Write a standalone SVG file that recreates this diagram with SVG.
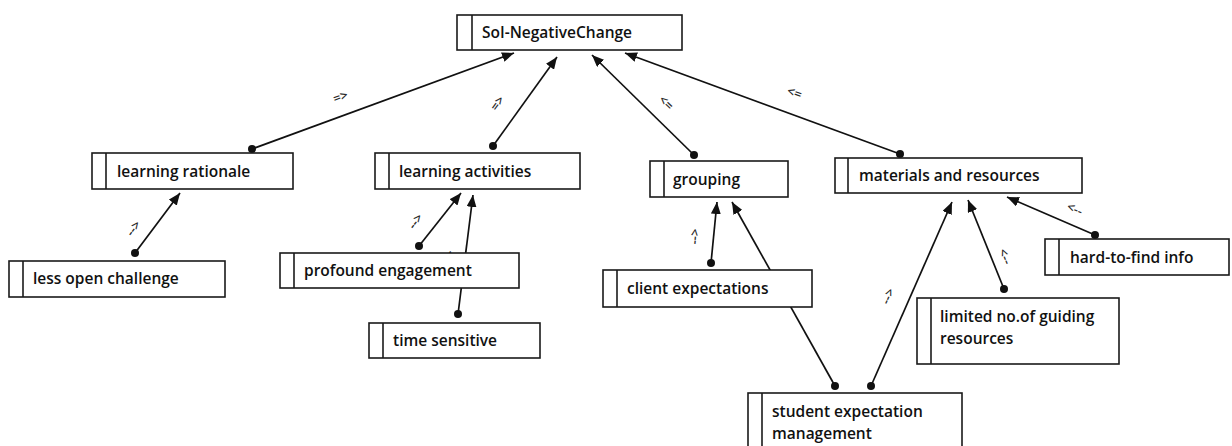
<svg xmlns="http://www.w3.org/2000/svg" width="1232" height="446" viewBox="0 0 1232 446">
  <style>
    .box { fill: #ffffff; stroke: #1a1a1a; stroke-width: 1.6; }
    .bar { stroke: #1a1a1a; stroke-width: 1.6; }
    .name { font-family: "Open Sans", "Noto Sans", sans-serif; font-size: 15.5px; font-weight: 600; fill: #111111; }
    .edge { stroke: #111111; stroke-width: 1.7; fill: none; marker-end: url(#tip); }
    .dot { fill: #111111; }
    .tag { font-family: "Open Sans", "Noto Sans", sans-serif; font-size: 13px; font-weight: 600; fill: #2a2a2a; text-anchor: middle; }
  </style>
  <defs>
    <marker id="tip" viewBox="0 0 12 10" refX="12" refY="5" markerWidth="12" markerHeight="10" markerUnits="userSpaceOnUse" orient="auto">
      <path d="M0,0 L12,5 L0,10 Z" fill="#111111"/>
    </marker>
  </defs>

  <rect width="1232" height="446" fill="#ffffff"/>

  <g id="connectors">
    <!-- into SoI-NegativeChange -->
    <line class="edge" x1="252" y1="149" x2="514" y2="53"/>
    <circle class="dot" cx="252" cy="149" r="4"/>
    <text class="tag" transform="translate(342,101) rotate(-20)">=&gt;</text>

    <line class="edge" x1="493" y1="146" x2="557" y2="57"/>
    <circle class="dot" cx="493" cy="146" r="4"/>
    <text class="tag" transform="translate(501,106) rotate(-54)">=&gt;</text>

    <line class="edge" x1="694" y1="155" x2="592" y2="55"/>
    <circle class="dot" cx="694" cy="155" r="4"/>
    <text class="tag" transform="translate(663,106) rotate(44)">&lt;=</text>

    <line class="edge" x1="900" y1="154" x2="625" y2="53"/>
    <circle class="dot" cx="900" cy="154" r="4"/>
    <text class="tag" transform="translate(793,97) rotate(20)">&lt;=</text>

    <!-- into learning rationale -->
    <line class="edge" x1="135" y1="253" x2="180" y2="193"/>
    <circle class="dot" cx="135" cy="253" r="4"/>
    <text class="tag" transform="translate(137,231) rotate(-53)">--&gt;</text>

    <!-- into learning activities -->
    <line class="edge" x1="458" y1="314" x2="473" y2="195"/>
    <circle class="dot" cx="458" cy="314" r="4"/>
    <text class="tag" transform="translate(454,259) rotate(-83)">--&gt;</text>

    <line class="edge" x1="419" y1="246" x2="461" y2="193"/>
    <circle class="dot" cx="419" cy="246" r="4"/>
    <text class="tag" transform="translate(419,224) rotate(-52)">--&gt;</text>

    <!-- into grouping -->
    <line class="edge" x1="711" y1="263" x2="717" y2="202"/>
    <circle class="dot" cx="711" cy="263" r="4"/>
    <text class="tag" transform="translate(699,237) rotate(-84)">--&gt;</text>

    <line class="edge" x1="835" y1="386" x2="732" y2="202"/>
    <circle class="dot" cx="835" cy="386" r="4"/>

    <!-- into materials and resources -->
    <line class="edge" x1="871" y1="386" x2="952" y2="202"/>
    <circle class="dot" cx="871" cy="386" r="4"/>
    <text class="tag" transform="translate(892,298) rotate(-66)">--&gt;</text>

    <line class="edge" x1="1004" y1="289" x2="968" y2="200"/>
    <circle class="dot" cx="1004" cy="289" r="4"/>
    <text class="tag" transform="translate(1001,258) rotate(68)">&lt;--</text>

    <line class="edge" x1="1095" y1="235" x2="1007" y2="197"/>
    <circle class="dot" cx="1095" cy="235" r="4"/>
    <text class="tag" transform="translate(1073,213) rotate(23)">&lt;--</text>
  </g>

  <g id="soi-negative-change">
    <rect class="box" x="457" y="15" width="225" height="35"/>
    <line class="bar" x1="472" y1="15" x2="472" y2="50"/>
    <text class="name" x="482" y="38">SoI-NegativeChange</text>
  </g>

  <g id="learning-rationale">
    <rect class="box" x="92" y="153" width="201" height="36"/>
    <line class="bar" x1="106" y1="153" x2="106" y2="189"/>
    <text class="name" x="117" y="177">learning rationale</text>
  </g>

  <g id="learning-activities">
    <rect class="box" x="375" y="153" width="205" height="36"/>
    <line class="bar" x1="389" y1="153" x2="389" y2="189"/>
    <text class="name" x="399" y="177">learning activities</text>
  </g>

  <g id="grouping">
    <rect class="box" x="650" y="161" width="138" height="36"/>
    <line class="bar" x1="664" y1="161" x2="664" y2="197"/>
    <text class="name" x="673" y="185">grouping</text>
  </g>

  <g id="materials-and-resources">
    <rect class="box" x="835" y="158" width="247" height="35"/>
    <line class="bar" x1="848" y1="158" x2="848" y2="193"/>
    <text class="name" x="859" y="181">materials and resources</text>
  </g>

  <g id="less-open-challenge">
    <rect class="box" x="9" y="261" width="216" height="36"/>
    <line class="bar" x1="23" y1="261" x2="23" y2="297"/>
    <text class="name" x="33" y="284">less open challenge</text>
  </g>

  <g id="profound-engagement">
    <rect class="box" x="280" y="253" width="239" height="35"/>
    <line class="bar" x1="294" y1="253" x2="294" y2="288"/>
    <text class="name" x="304" y="276">profound engagement</text>
  </g>

  <g id="time-sensitive">
    <rect class="box" x="369" y="323" width="171" height="35"/>
    <line class="bar" x1="383" y1="323" x2="383" y2="358"/>
    <text class="name" x="393" y="346">time sensitive</text>
  </g>

  <g id="client-expectations">
    <rect class="box" x="603" y="270" width="209" height="37"/>
    <line class="bar" x1="617" y1="270" x2="617" y2="307"/>
    <text class="name" x="627" y="294">client expectations</text>
  </g>

  <g id="hard-to-find-info">
    <rect class="box" x="1045" y="239" width="184" height="36"/>
    <line class="bar" x1="1059" y1="239" x2="1059" y2="275"/>
    <text class="name" x="1070" y="263">hard-to-find info</text>
  </g>

  <g id="limited-guiding-resources">
    <rect class="box" x="917" y="298" width="202" height="66"/>
    <line class="bar" x1="931" y1="298" x2="931" y2="364"/>
    <text class="name" x="940" y="322">limited no.of guiding</text>
    <text class="name" x="940" y="344">resources</text>
  </g>

  <g id="student-expectation-management">
    <rect class="box" x="748" y="393" width="214" height="60"/>
    <line class="bar" x1="762" y1="393" x2="762" y2="453"/>
    <text class="name" x="772" y="417">student expectation</text>
    <text class="name" x="772" y="439">management</text>
  </g>
</svg>
